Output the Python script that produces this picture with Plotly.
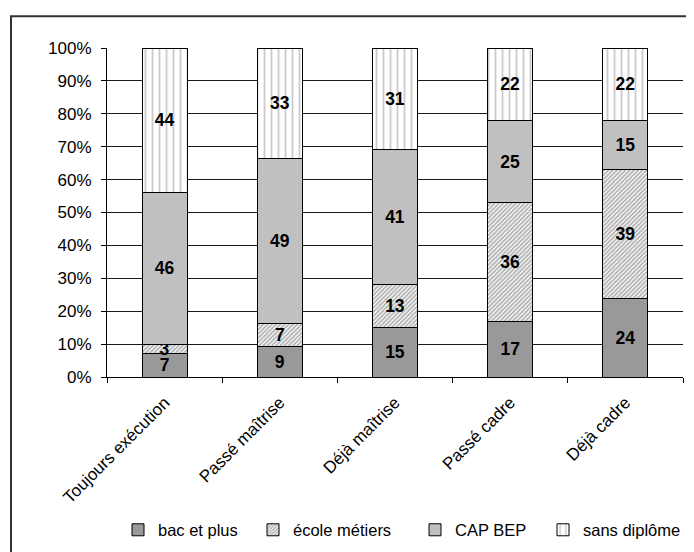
import plotly.graph_objects as go

categories = ["Toujours exécution", "Passé maîtrise", "Déjà maîtrise", "Passé cadre", "Déjà cadre"]
bac_et_plus = [7, 9, 15, 17, 24]
ecole_metiers = [3, 7, 13, 36, 39]
cap_bep = [46, 49, 41, 25, 15]
sans_diplome = [44, 33, 31, 22, 22]

# page body has an 8px margin: figure coords = screen coords - 8
W, H = 694, 552
L, R, T, B = 99, 19, 40, 181
pw, ph = W - L - R, H - T - B

font_family = "Liberation Sans, Arial, sans-serif"

def px_x(px):
    return (px - L) / pw

def px_y(py):
    return (H - B - py) / ph

series = [
    ("bac et plus", bac_et_plus, dict(color="#999999"), "legend", 150),
    ("école métiers", ecole_metiers, dict(color="white", pattern=dict(shape="/", fgcolor="#666666", bgcolor="white", size=3, solidity=0.6)), "legend2", 285),
    ("CAP BEP", cap_bep, dict(color="#c0c0c0"), "legend3", 447),
    ("sans diplôme", sans_diplome, dict(color="white", pattern=dict(shape="|", fgcolor="#959595", bgcolor="white", size=7, solidity=0.25)), "legend4", 575),
]

fig = go.Figure()
legends = {}
for name, vals, mk, lg, text_x in series:
    mk = dict(mk)
    mk["line"] = dict(color="black", width=1)
    fig.add_trace(go.Bar(
        x=categories, y=vals, name=name, marker=mk, legend=lg,
        text=vals, texttemplate="<b>%{text}</b>",
        textposition="inside", insidetextanchor="middle",
        textfont=dict(color="black", size=17.5, family=font_family),
        textangle=0,
    ))
    legends[lg] = dict(orientation="h", x=px_x(text_x - 40), xanchor="left",
                       y=px_y(525), yanchor="middle",
                       font=dict(size=16.5, family=font_family, color="black"),
                       bgcolor="rgba(0,0,0,0)", borderwidth=0)

fig.update_layout(
    barmode="stack", barnorm="percent", bargap=0.61,
    width=W, height=H,
    margin=dict(l=L, r=R, t=T, b=B),
    paper_bgcolor="white", plot_bgcolor="white",
    font=dict(family=font_family, size=16.5, color="black"),
    uniformtext=dict(minsize=17, mode="show"),
    showlegend=True,
    **legends,
)

fig.update_yaxes(
    range=[0, 100], dtick=10, ticksuffix="%",
    showgrid=True, gridcolor="#1a1a1a", gridwidth=1,
    showline=True, linecolor="black", linewidth=1,
    ticks="outside", ticklen=5, tickcolor="black",
    tickfont=dict(size=17), zeroline=False, ticklabelstandoff=6,
)
fig.update_xaxes(
    showline=True, linecolor="black", linewidth=1,
    ticks="outside", ticklen=5, tickcolor="black", tickson="boundaries",
    tickangle=-45, tickfont=dict(size=17), showgrid=False, ticklabelstandoff=8,
)

fig.add_shape(type="rect", xref="paper", yref="paper",
              x0=px_x(3), x1=px_x(720),
              y0=px_y(580), y1=px_y(8),
              line=dict(color="#333333", width=2), fillcolor="rgba(0,0,0,0)", layer="above")

fig.write_html("out.html")
